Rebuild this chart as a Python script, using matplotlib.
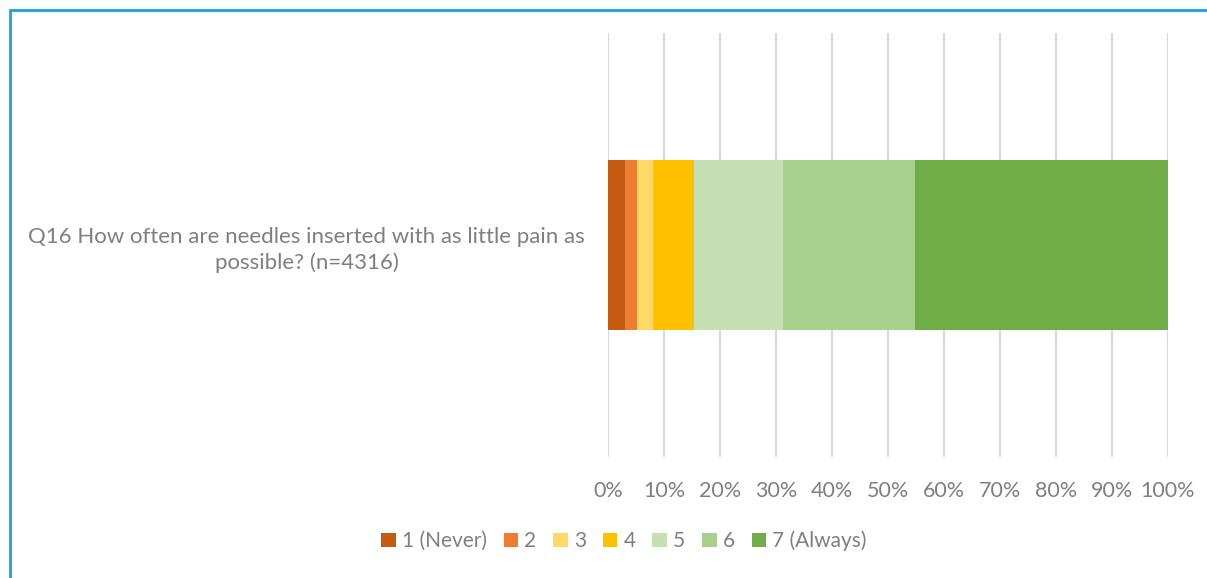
import matplotlib.pyplot as plt
from matplotlib.patches import Rectangle

question = "Q16 How often are needles inserted with as little pain as\npossible? (n=4316)"
responses = ["1 (Never)", "2", "3", "4", "5", "6", "7 (Always)"]
shares = [3.1, 2.0, 3.0, 7.3, 15.9, 23.6, 45.1]
colors = ["#C55A11", "#ED7D31", "#FFD966", "#FFC000", "#C5E0B4", "#A9D18E", "#70AD47"]
ticks = list(range(0, 101, 10))

plt.rcParams['font.family'] = ['Lato', 'DejaVu Sans']
text_col = "#7F7F7F"

W, H = 1207, 578
fig = plt.figure(figsize=(W / 100, H / 100), dpi=100)
ax = fig.add_axes([608 / W, 1 - 457 / H, 560 / W, 424 / H])

left = 0
for lab, val, col in zip(responses, shares, colors):
    ax.barh(0, val, left=left, height=0.4, color=col, label=lab, zorder=3)
    left += val

ax.set_xlim(0, 100)
ax.set_ylim(-0.5, 0.5)
ax.set_xticks(ticks)
ax.set_xticklabels([f"{t}%" for t in ticks], fontsize=15.5, color=text_col)
ax.set_yticks([0])
ax.set_yticklabels([question], fontsize=16, color=text_col, linespacing=1.35)
for t in ax.get_yticklabels():
    t.set_multialignment('center')
ax.tick_params(axis='both', length=0)
ax.tick_params(axis='x', pad=17)
ax.tick_params(axis='y', pad=16.5)
ax.grid(axis='x', color="#D9D9D9", linewidth=1.5, zorder=0)
for s in ax.spines.values():
    s.set_visible(False)

ax.legend(loc='center', bbox_to_anchor=(624 / W, 1 - 541 / H), bbox_transform=fig.transFigure,
          ncol=7, frameon=False, fontsize=15, labelcolor=text_col,
          handlelength=0.7, handleheight=0.7, handletextpad=0.3, columnspacing=0.8)

# blue frame (top and left edges visible)
fig.patches.append(Rectangle((10 / W, -0.1), 1.2, 1 - 10 / H + 0.1, transform=fig.transFigure,
                             fill=False, edgecolor="#1BA1E2", linewidth=2))

fig.savefig("out.png", dpi=100)
